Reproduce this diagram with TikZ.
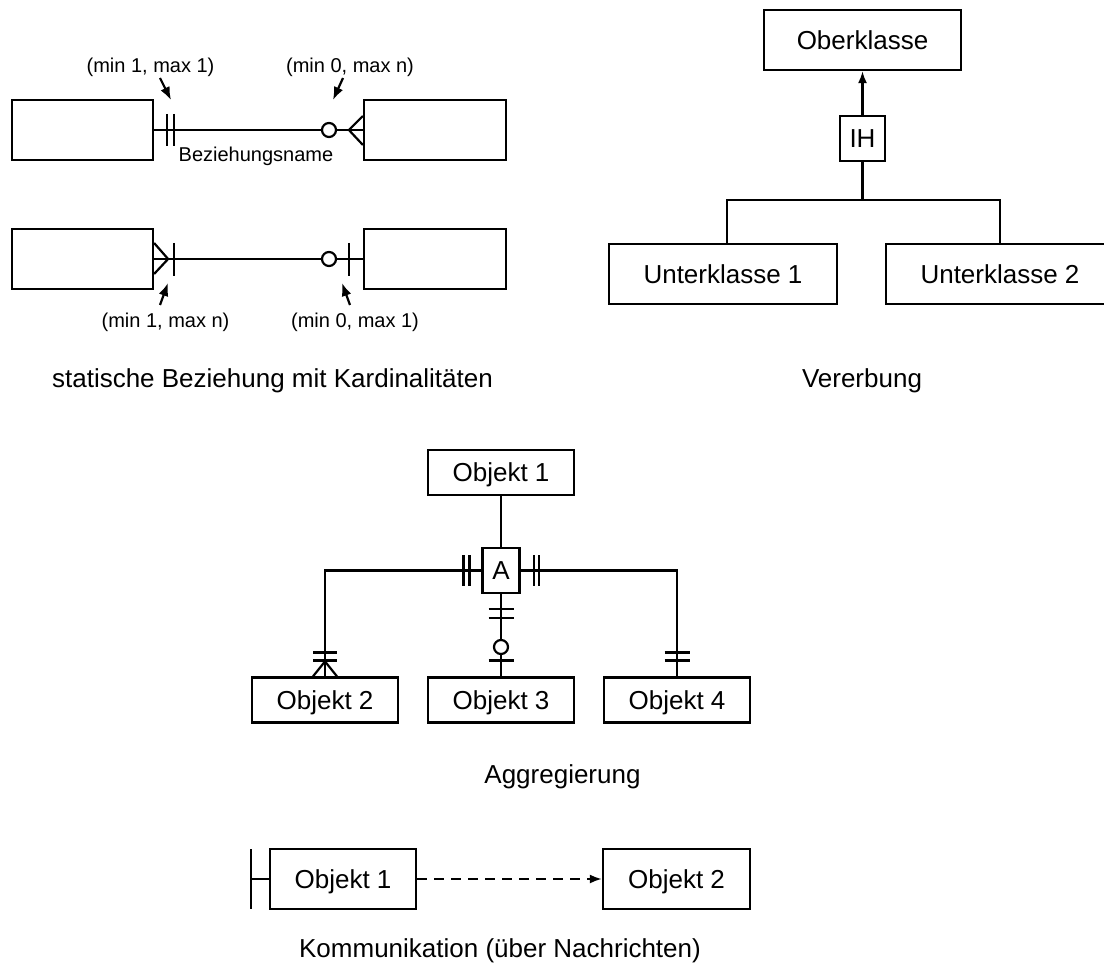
\documentclass[tikz,border=0pt]{standalone}
\usepackage{fontspec}
\setmainfont{Liberation Sans}
\usetikzlibrary{arrows.meta,calc}
\newcommand\bigtxt{\fontsize{26}{31}\selectfont}
\newcommand\smalltxt{\fontsize{20}{24}\selectfont}
\begin{document}
\begin{tikzpicture}[x=1pt,y=-1pt,line width=2.2pt,
  box/.style={draw,rectangle,inner sep=0pt,minimum width=#1,minimum height=60pt,
              text height=18.6pt,text depth=0pt,font=\bigtxt},
  sbox/.style={box=#1,minimum height=45pt},
  ring/.style={draw,circle,fill=white,inner sep=0pt,minimum size=14pt},
  caption/.style={anchor=base,inner sep=0pt,font=\bigtxt},
  card/.style={anchor=base,inner sep=0pt,font=\smalltxt},
  pointer/.style={-{Latex[length=13pt,width=10pt]}},
  tip/.style={-{Latex[length=12pt,width=9pt]}}]
\useasboundingbox (0,0) rectangle (1104,965);

% ---------- static relationship with cardinalities ----------
\node[box=141pt] (L1) at (82.5,130) {};
\node[box=142pt] (R1) at (435,130) {};
\node[ring] (c1) at (329,130) {};
\draw (L1.east) -- (c1.west);
\draw (c1.east) -- (R1.west);
\draw ($(L1.east)+(13,-16)$) -- ++(0,32);
\draw ($(L1.east)+(20,-16)$) -- ++(0,32);
\draw ($(R1.west)+(0,-14)$) -- ($(R1.west)+(-14,0)$) -- ($(R1.west)+(0,15)$);
\node[card] (k1) at (150.5,73) {(min 1, max 1)};
\node[card] (k2) at (350,73) {(min 0, max n)};
\node[card] (bn) at (256,162) {Beziehungsname};
\coordinate (k1s) at (160,78);  \coordinate (k1e) at (171,100);
\coordinate (k2s) at (343,78);  \coordinate (k2e) at (333,100);
\draw[pointer] (k1s) -- (k1e);
\draw[pointer] (k2s) -- (k2e);

\node[box=141pt] (L2) at (82.5,259) {};
\node[box=142pt] (R2) at (435,259) {};
\node[ring] (c2) at (329,259) {};
\draw (L2.east) -- (c2.west);
\draw (c2.east) -- (R2.west);
\draw ($(L2.east)+(0,-16)$) -- ($(L2.east)+(14,0)$) -- ($(L2.east)+(0,15)$);
\draw ($(L2.east)+(20,-16)$) -- ++(0,33);
\draw ($(R2.west)+(-14,-16)$) -- ++(0,33);
\node[card] (k3) at (165.5,328) {(min 1, max n)};
\node[card] (k4) at (355,328) {(min 0, max 1)};
\coordinate (k3s) at (160,305); \coordinate (k3e) at (168,283);
\coordinate (k4s) at (350,305); \coordinate (k4e) at (342,283);
\draw[pointer] (k3s) -- (k3e);
\draw[pointer] (k4s) -- (k4e);

\node[caption] (cap1) at (272.5,388) {statische Beziehung mit Kardinalitäten};

% ---------- inheritance ----------
\node[box=197pt] (Ober) at (862.5,40) {Oberklasse};
\node[sbox=45pt] (IH) at (862.5,138.5) {IH};
\node[box=228pt] (U1) at (723,274) {Unterklasse 1};
\node[box=228pt] (U2) at (1000,274) {Unterklasse 2};
\draw[tip] (IH.north) -- (Ober.south);
\draw (IH.south) -- ++(0,38) coordinate (hub);
\draw ($(U1.north)+(4,0)$) |- (hub) -| (U2.north);
\node[caption] (cap2) at (862,388) {Vererbung};

% ---------- aggregation ----------
\node[sbox=146pt] (O1) at (501,472.5) {Objekt 1};
\node[sbox=37pt] (A) at (501,570.5) {A};
\node[sbox=146pt] (O2) at (325,700) {Objekt 2};
\node[sbox=146pt] (O3) at (501,700) {Objekt 3};
\node[sbox=146pt] (O4) at (677,700) {Objekt 4};
\node[ring,minimum size=14pt] (c3) at (501,647) {};
\draw (O1.south) -- (A.north);
\draw (A.west) -| (O2.north);
\draw (A.east) -| (O4.north);
\draw (A.south) -- (c3.north);
\draw (c3.south) -- (O3.north);
% one-and-only-one marks at the aggregation node
\draw ($(A.west)+(-18,-15)$) -- ++(0,30);
\draw ($(A.west)+(-12,-15)$) -- ++(0,30);
\draw ($(A.east)+(13,-15)$) -- ++(0,30);
\draw ($(A.east)+(18,-15)$) -- ++(0,30);
\draw ($(A.south)+(-12.5,15)$) -- ++(25,0);
\draw ($(A.south)+(-12.5,24)$) -- ++(25,0);
% part-side cardinalities
\draw ($(O3.north)+(-12.5,-16)$) -- ++(25,0);
\draw ($(O2.north)+(-12,-24)$) -- ++(24,0);
\draw ($(O2.north)+(-12,-16)$) -- ++(24,0);
\draw ($(O2.north)+(-12,0)$) -- ($(O2.north)+(0,-15)$) -- ($(O2.north)+(12,0)$);
\draw ($(O4.north)+(-12.5,-24)$) -- ++(25,0);
\draw ($(O4.north)+(-12.5,-16)$) -- ++(25,0);
\node[caption] (cap3) at (562.5,783) {Aggregierung};

% ---------- communication ----------
\node[box=146pt] (C1) at (343,879) {Objekt 1};
\node[box=147pt] (C2) at (676.5,879) {Objekt 2};
\coordinate (src) at ($(C1.west)+(-18,0)$);
\draw ($(src)+(0,-30)$) -- ++(0,60);
\draw (src) -- (C1.west);
\draw[tip,dash pattern=on 10pt off 7pt] (C1.east) -- (C2.west);
\node[caption] (cap4) at (500,957) {Kommunikation (über Nachrichten)};
\end{tikzpicture}
\end{document}
